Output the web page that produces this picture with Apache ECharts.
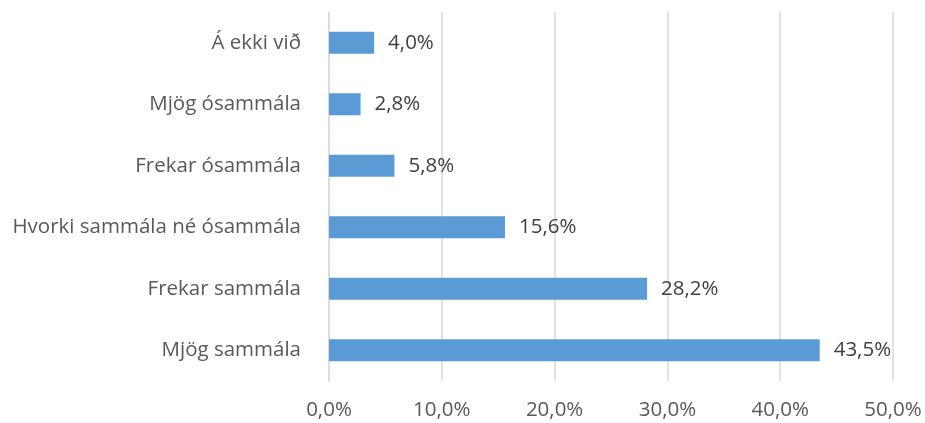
<!DOCTYPE html>
<html>
<head>
<meta charset="utf-8">
<script src="https://cdn.jsdelivr.net/npm/echarts@6/dist/echarts.min.js"></script>
<style>
  html, body { margin: 0; padding: 0; background: #fff; }
  #chart { width: 925px; height: 423px; }
</style>
</head>
<body>
<div id="chart"></div>
<script>
  // categories from bottom to top
  const categories = [
    "Mjög sammála",
    "Frekar sammála",
    "Hvorki sammála né ósammála",
    "Frekar ósammála",
    "Mjög ósammála",
    "Á ekki við"
  ];
  const values = [43.5, 28.2, 15.6, 5.8, 2.8, 4.0];

  const fmt = (v) => v.toFixed(1).replace(".", ",") + "%";

  const chart = echarts.init(document.getElementById("chart"));
  chart.setOption({
    animation: false,
    textStyle: { fontFamily: "Open Sans" },
    grid: { left: 329, right: 32, top: 12, bottom: 42 },
    xAxis: {
      type: "value",
      min: 0,
      max: 50,
      interval: 10,
      axisLine: { show: false },
      axisTick: { show: false },
      splitLine: { lineStyle: { color: "#d9d9d9", width: 1.5 } },
      axisLabel: {
        formatter: fmt,
        color: "#595959",
        fontSize: 20.5,
        margin: 19
      }
    },
    yAxis: {
      type: "category",
      data: categories,
      axisLine: { lineStyle: { color: "#d9d9d9", width: 1.5 } },
      axisTick: { show: false },
      axisLabel: { color: "#595959", fontSize: 20.5, margin: 28 }
    },
    series: [
      {
        type: "bar",
        data: values,
        barWidth: 22,
        itemStyle: { color: "#5b9bd5" },
        label: {
          show: true,
          position: "right",
          distance: 14,
          color: "#404040",
          fontSize: 20.5,
          formatter: (p) => fmt(p.value)
        }
      }
    ]
  });
</script>
</body>
</html>
